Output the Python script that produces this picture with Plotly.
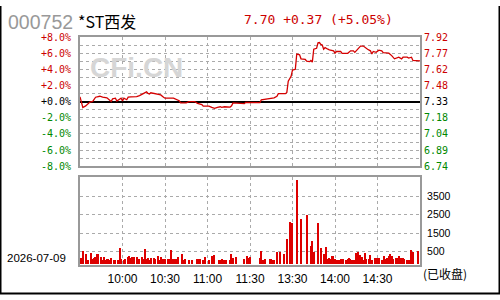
import plotly.graph_objects as go

# ---------------- data ----------------
CODE = "000752"
NAME = "*ST西发"
QUOTE = "7.70 +0.37 (+5.05%)"
DATE = "2026-07-09"
STATUS = "(已收盘)"
WATERMARK = "CFi.CN"
PREV_CLOSE = 7.33

PRICE_TIMES = ["09:30", "09:32", "09:34", "09:37", "09:39", "09:41", "09:44", "09:46", "09:49", "09:51",
               "09:52", "09:53", "09:55", "09:56", "09:58", "09:59", "10:00", "10:01", "10:03", "10:04",
               "10:06", "10:10", "10:12", "10:14", "10:16", "10:17", "10:18", "10:19", "10:20", "10:22",
               "10:25", "10:27", "10:29", "10:30", "10:36", "10:38", "10:40", "10:41", "10:45", "10:47",
               "10:51", "10:53", "10:56", "10:57", "11:01", "11:03", "11:05", "11:07", "11:09", "11:10",
               "11:12", "11:16", "11:17", "11:18", "11:23", "11:26", "11:27", "11:30",
               "13:01", "13:07", "13:08", "13:15", "13:17", "13:19", "13:20", "13:25", "13:26", "13:27",
               "13:29", "13:30", "13:32", "13:33", "13:35", "13:36", "13:39", "13:40", "13:42", "13:43",
               "13:44", "13:45", "13:47", "13:48", "13:49", "13:50", "13:51", "13:52", "13:53", "13:55",
               "13:56", "13:59", "14:00", "14:01", "14:04", "14:05", "14:09", "14:11", "14:13", "14:14",
               "14:15", "14:16", "14:18", "14:20", "14:22", "14:23", "14:25", "14:26", "14:27", "14:29",
               "14:31", "14:33", "14:34", "14:38", "14:40", "14:41", "14:42", "14:45", "14:47", "14:48",
               "14:51", "14:52", "14:54", "14:55", "15:00"]
PRICE_PCT = [0.60, -0.72, -0.52, -0.05, 0.04, 0.55, 0.67, 0.55, 0.47, 0.08,
             0.02, 0.35, 0.43, 0.08, 0.35, 0.43, 0.08, 0.43, 0.24, 0.55,
             0.59, 0.63, 0.75, 0.91, 1.06, 1.22, 1.02, 0.95, 1.10, 1.02,
             0.87, 0.83, 0.55, 0.43, 0.43, 0.32, 0.12, -0.16, -0.16, 0.00,
             0.00, -0.20, -0.36, -0.55, -0.55, -0.71, -0.83, -0.71, -0.63, -0.71,
             -0.63, -0.67, -0.52, -0.16, -0.16, -0.24, -0.08, -0.08,
             -0.12, -0.12, 0.23, 0.35, 0.47, 0.67, 0.99, 0.99, 1.15, 2.53,
             3.13, 3.91, 4.00, 5.90, 5.80, 5.30, 5.22, 5.02, 4.95, 5.10,
             4.90, 6.49, 6.60, 7.28, 7.32, 7.08, 7.00, 6.49, 6.69, 6.49,
             6.41, 6.29, 6.00, 6.21, 6.21, 5.98, 5.98, 6.29, 6.29, 6.10,
             6.29, 6.61, 6.88, 6.88, 6.69, 6.49, 6.29, 5.90, 6.21, 6.10,
             6.37, 6.29, 6.06, 6.00, 5.70, 5.50, 5.30, 5.50, 5.30, 5.50,
             5.50, 5.40, 5.50, 5.10, 5.05]

VOL_TIMES = ["09:31", "09:32", "09:34", "09:36", "09:38", "09:39", "09:40", "09:41", "09:42", "09:43",
             "09:45", "09:46", "09:47", "09:48", "09:49", "09:50", "09:51", "09:52", "09:54", "09:55",
             "09:57", "09:58", "09:59", "10:01", "10:02", "10:04", "10:05", "10:06", "10:07", "10:08",
             "10:10", "10:12", "10:14", "10:15", "10:16", "10:17", "10:18", "10:19", "10:20", "10:22",
             "10:23", "10:25", "10:26", "10:27", "10:29", "10:30", "10:32", "10:33", "10:34", "10:36",
             "10:37", "10:38", "10:39", "10:42", "10:43", "10:44", "10:47", "10:49", "10:53", "10:54",
             "10:55", "10:57", "10:58", "11:01", "11:03", "11:05", "11:08", "11:09", "11:10", "11:12",
             "11:13", "11:16", "11:17", "11:18", "11:20", "11:26", "11:28", "11:29", "11:30",
             "13:07", "13:08", "13:09", "13:11", "13:14", "13:15", "13:16", "13:17", "13:19", "13:21",
             "13:24", "13:26", "13:28", "13:30", "13:33", "13:36", "13:40", "13:43", "13:44", "13:45",
             "13:48", "13:50", "13:52", "13:54", "13:55", "13:56", "13:57", "13:58", "13:59", "14:00",
             "14:01", "14:02", "14:03", "14:04", "14:05", "14:06", "14:08", "14:09", "14:10", "14:11",
             "14:12", "14:13", "14:14", "14:15", "14:16", "14:18", "14:19", "14:20", "14:21", "14:22",
             "14:24", "14:25", "14:26", "14:28", "14:29", "14:30", "14:31", "14:33", "14:35", "14:36",
             "14:37", "14:38", "14:39", "14:40", "14:41", "14:43", "14:44", "14:45", "14:46", "14:47",
             "14:48", "14:49", "14:51", "14:52", "14:53", "14:54", "14:55", "14:59"]
VOL_VALUES = [118, 500, 380, 30, 432, 66, 118, 207, 343, 380,
              170, 30, 170, 30, 66, 66, 30, 118, 30, 30,
              30, 693, 66, 30, 66, 170, 240, 118, 170, 170,
              170, 66, 170, 66, 641, 66, 118, 30, 118, 118,
              66, 240, 30, 170, 66, 66, 66, 66, 589, 66,
              66, 66, 170, 380, 30, 66, 30, 30, 66, 66,
              66, 30, 170, 30, 240, 291, 30, 30, 66, 30,
              30, 30, 327, 118, 170, 66, 240, 118, 170,
              118, 537, 14, 101, 66, 66, 49, 14, 484, 484,
              327, 1148, 2105, 2016, 4368, 2277, 2486, 798, 1059, 448,
              2016, 678, 327, 709, 101, 153, 101, 223, 223, 101,
              49, 49, 49, 66, 101, 101, 49, 101, 153, 101,
              49, 49, 49, 397, 448, 275, 188, 49, 397, 101,
              101, 275, 49, 153, 101, 153, 153, 49, 223, 101,
              153, 223, 327, 223, 101, 153, 153, 223, 49, 153,
              153, 101, 49, 49, 49, 573, 448, 500]

PCT_TICKS = [-8, -7, -6, -5, -4, -3, -2, -1, 0, 1, 2, 3, 4, 5, 6, 7, 8]
VOL_TICKS = [500, 1500, 2500, 3500]
VOL_RANGE = [-211, 4545]
TIME_TICKS = ["10:00", "10:30", "11:00", "11:30", "13:30", "14:00", "14:30"]

RED = "#cc0000"
GREEN = "#008800"
GRID = "#aaaaaa"
FRAME = "#999999"


def idx(t):
    h, m = map(int, t.split(":"))
    mins = h * 60 + m
    return mins - 570 if mins <= 690 else mins - 780 + 120


def colored(text, v):
    c = RED if v > 0 else (GREEN if v < 0 else "#000000")
    return f'<span style="color:{c}">{text}</span>'


pct_text = []
price_vals = []
price_text = []
for v in PCT_TICKS:
    if v % 2 == 0:
        pct_text.append(colored(f"{v:+.1f}%" if v != 0 else "+0.0%", v))
        price_vals.append(PREV_CLOSE * (1 + v / 100))
        price_text.append(colored(f"{PREV_CLOSE * (1 + v / 100):.2f}", v))
    else:
        pct_text.append("")

fig = go.Figure()
fig.add_trace(go.Scatter(
    x=[idx(t) for t in PRICE_TIMES], y=PRICE_PCT, mode="lines",
    line=dict(color="#d40000", width=1.3), xaxis="x", yaxis="y", hoverinfo="skip"))
# invisible trace to activate right price axis
fig.add_trace(go.Scatter(x=[0], y=[PREV_CLOSE], mode="markers", marker=dict(opacity=0),
                         xaxis="x", yaxis="y2", hoverinfo="skip"))
fig.add_trace(go.Bar(
    x=[idx(t) for t in VOL_TIMES], y=[v - VOL_RANGE[0] for v in VOL_VALUES],
    base=VOL_RANGE[0], width=0.9, marker=dict(color="#dd0000", line=dict(width=0)),
    xaxis="x2", yaxis="y3", hoverinfo="skip"))

L, R = 80 / 500, 420 / 500
mono = "DejaVu Sans Mono"
sans = "Liberation Sans"

xcommon = dict(range=[0, 240], tickvals=[idx(t) for t in TIME_TICKS], showgrid=True,
               gridcolor=GRID, griddash="dot", gridwidth=1, zeroline=False,
               showline=True, mirror=True, linecolor=FRAME, linewidth=2, ticks="")

fig.update_layout(
    width=500, height=300, autosize=False,
    margin=dict(l=0, r=0, t=0, b=0),
    paper_bgcolor="white", plot_bgcolor="white",
    showlegend=False, bargap=0,
    xaxis=dict(domain=[L, R], anchor="y", showticklabels=False, **xcommon),
    xaxis2=dict(domain=[L, R], anchor="y3", ticktext=TIME_TICKS, showticklabels=True,
                tickfont=dict(family=sans, size=12, color="#000"), ticklabelstandoff=2, **xcommon),
    yaxis=dict(domain=[1 - 167 / 300, 1 - 32.3 / 300], anchor="x", range=[-8, 8],
               tickmode="array", tickvals=PCT_TICKS, ticktext=pct_text,
               tickfont=dict(family=mono, size=10), ticklabelstandoff=5,
               showgrid=True, gridcolor=GRID, griddash="dot", gridwidth=1,
               zeroline=True, zerolinecolor="#000000", zerolinewidth=2,
               showline=True, mirror=True, linecolor=FRAME, linewidth=2, ticks=""),
    yaxis2=dict(overlaying="y", anchor="x", side="right",
                range=[PREV_CLOSE * 0.92, PREV_CLOSE * 1.08],
                tickmode="array", tickvals=price_vals, ticktext=price_text,
                tickfont=dict(family=mono, size=10), ticklabelstandoff=3,
                showgrid=False, zeroline=False, showline=False, ticks=""),
    yaxis3=dict(domain=[1 - 269.3 / 300, 1 - 178.3 / 300], anchor="x2", side="right",
                range=VOL_RANGE, tickmode="array", tickvals=VOL_TICKS,
                ticktext=[str(v) for v in VOL_TICKS],
                tickfont=dict(family=sans, size=10.5, color="#000"), ticklabelstandoff=3,
                showgrid=True, gridcolor=GRID, griddash="dot", gridwidth=1, zeroline=False,
                showline=True, mirror=True, linecolor=FRAME, linewidth=2, ticks=""),
)


def ann(text, x, y, size, color, family, xanchor="left", bold=False):
    fig.add_annotation(text=f"<b>{text}</b>" if bold else text, x=x / 500, y=1 - y / 300,
                       xref="paper", yref="paper", xanchor=xanchor, yanchor="middle",
                       showarrow=False, font=dict(size=size, color=color, family=family))


ann(CODE, 6, 17, 19.5, "#999999", sans)
ann(NAME, 76, 16, 16, "#000000", "Noto Sans CJK SC")
ann(QUOTE, 242, 14, 13, RED, mono)
ann(WATERMARK, 88, 64, 28, "#d6d6d6", sans, bold=True)
ann(DATE, 5, 262, 11.5, "#000000", sans)
ann(STATUS, 421, 279, 12, "#000000", "Noto Sans CJK SC")

# outer frame (left, right, bottom)
fig.add_shape(type="line", xref="paper", yref="paper", x0=0.001, x1=0.001, y0=0, y1=1,
              line=dict(color="#000", width=2))
fig.add_shape(type="line", xref="paper", yref="paper", x0=0.999, x1=0.999, y0=0, y1=1,
              line=dict(color="#000", width=2))
fig.add_shape(type="line", xref="paper", yref="paper", x0=0, x1=1, y0=0.002, y1=0.002,
              line=dict(color="#000", width=2))

fig.write_html("out.html", config={"displayModeBar": False})
